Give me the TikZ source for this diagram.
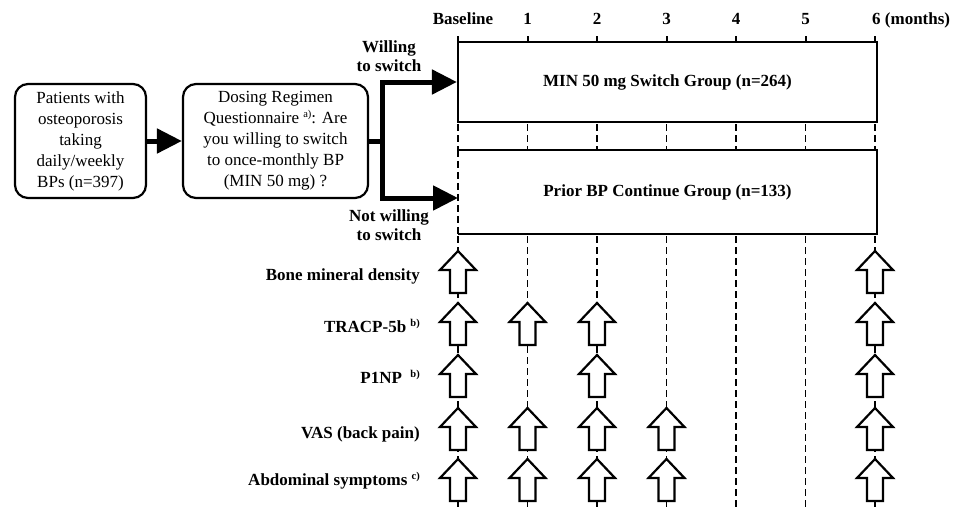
\documentclass[tikz,border=0pt]{standalone}
\usepackage{fontspec}
\setmainfont{Liberation Serif}
\usetikzlibrary{arrows.meta}
\newcommand{\fnmark}[1]{\raisebox{6pt}{\fontsize{10.5}{10.5}\selectfont #1}}

\begin{document}
\begin{tikzpicture}[x=1pt,y=-1pt,
		every node/.style={font=\fontsize{17}{21}\selectfont, inner sep=0pt},
		boldtext/.style={font=\fontsize{17}{21}\selectfont\bfseries},
		twoline/.style={align=center, font=\fontsize{17}{19}\selectfont\bfseries},
		leftbox/.style={draw, rounded corners=13pt, line width=2.2pt, minimum height=114pt, align=center},
		groupbox/.style={fill=white, minimum width=419pt, boldtext},
		flow/.style={line width=5pt, -{Triangle[length=25pt,width=24pt]}},
		tline/.style={line width=1.8pt, dash pattern=on 7pt off 4pt},
		probe/.style={draw, fill=white, line width=2.2pt, line join=miter},
		rowlabel/.style={anchor=base east, boldtext}]
	\useasboundingbox (0,0) rectangle (959,509);

	% screening and questionnaire
	\node	(patients) at (80.5,141) [leftbox, minimum width=131pt] {Patients with\\osteoporosis\\taking\\daily/weekly\\BPs (n=397)};
	\node	(dosing) at (275.5,141) [leftbox, minimum width=185pt] {Dosing Regimen\\Questionnaire \fnmark{a)}: Are\\you willing to switch\\to once-monthly BP\\(MIN 50 mg) ?};

	% time axis
	\foreach \i [evaluate=\i as \x using 458+69.5*\i] in {0,...,6}{
		\draw[line width=2pt] (\x,36) -- (\x,42);
		\draw[tline] (\x,124) -- (\x,150);
		\draw[tline] (\x,236) -- (\x,509);
	}
	\node	(lab0) at (463,24) [anchor=base, boldtext] {Baseline};
	\foreach \i [evaluate=\i as \x using 458+69.5*\i] in {1,...,5}
		\node	(lab\i) at (\x,24) [anchor=base, boldtext] {\i};
	\node	(lab6) at (872,24) [anchor=base west, boldtext] {6 (months)};

	% groups
	\node	(switch) at (667.5,82) [groupbox, draw, line width=2.2pt, minimum height=80pt] {MIN 50 mg Switch Group (n=264)};
	\node	(prior) at (667.5,192) [groupbox, minimum height=84pt] {Prior BP Continue Group (n=133)};
	\draw[line width=2.2pt] (prior.north west) -- (prior.north east) -- (prior.south east) -- (prior.south west);
	\draw[tline] (prior.north west) -- (prior.south west);

	% flow
	\coordinate (split) at (382,141);
	\coordinate (notin) at (458,198);
	\draw[flow] (patients) -- (dosing);
	\draw[line width=5pt] (dosing.east) -- (split);
	\draw[flow] (split) |- (switch.west);
	\draw[flow] (split) |- (notin);
	\node	(willing) at (389,56) [twoline] {Willing\\to switch};
	\node	(notwilling) at (389,225) [twoline] {Not willing\\to switch};

	% measurements
	\node	(bmd) at (420,280) [rowlabel] {Bone mineral density};
	\node	(tracp) at (420,332) [rowlabel] {TRACP-5b \fnmark{b)}};
	\node	(pinp) at (420,383) [rowlabel] {P1NP \ \fnmark{b)}};
	\node	(vas) at (420,438) [rowlabel] {VAS (back pain)};
	\node	(abd) at (420,485) [rowlabel] {Abdominal symptoms \fnmark{c)}};
	\foreach \c/\t in {0/251,6/251, 0/303,1/303,2/303,6/303, 0/355,2/355,6/355,
			0/408,1/408,2/408,3/408,6/408, 0/459,1/459,2/459,3/459,6/459}
		\draw[probe] ({458+69.5*\c},\t) -- ++(18,19) -- ++(-10,0) -- ++(0,23) -- ++(-16,0) -- ++(0,-23) -- ++(-10,0) -- cycle;
\end{tikzpicture}
\end{document}
